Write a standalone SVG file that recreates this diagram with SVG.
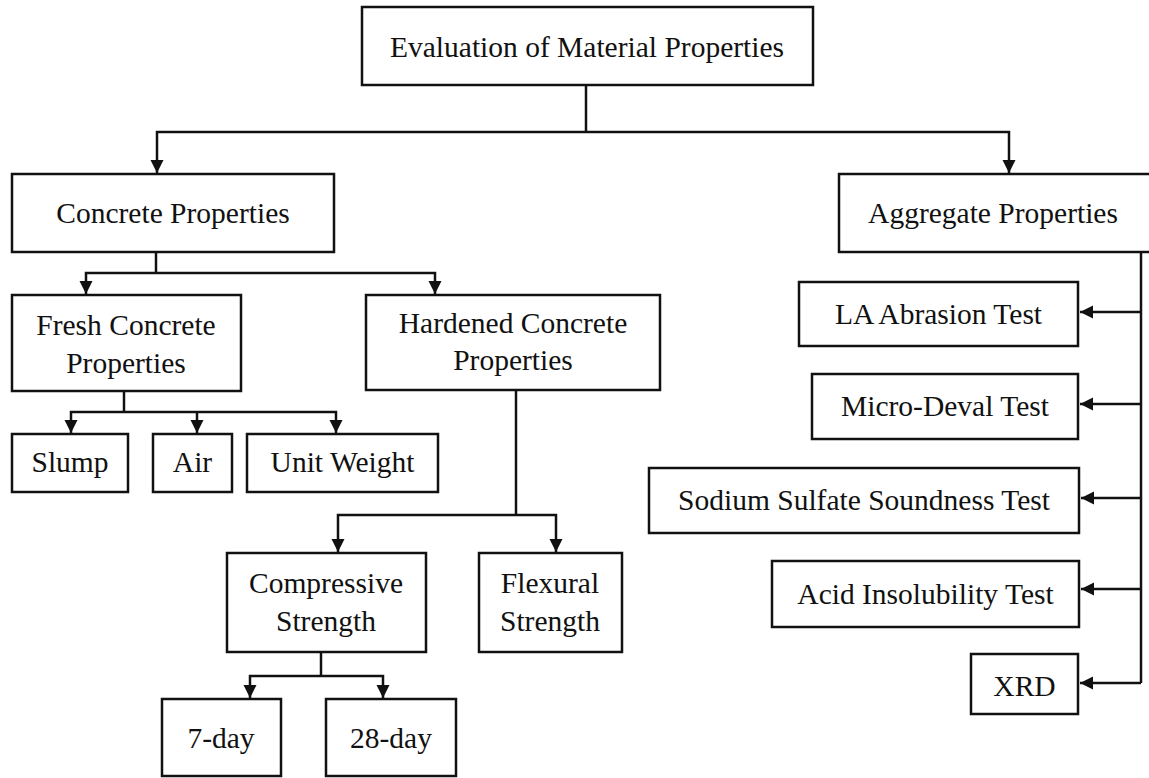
<svg xmlns="http://www.w3.org/2000/svg" width="1149" height="778" viewBox="0 0 1149 778">
<defs>
<style>
.box{fill:#fff;stroke:#111;stroke-width:2.5}
.t{font-family:"Liberation Serif","Times New Roman",serif;font-size:29.5px;fill:#111;text-anchor:middle}
.c{fill:none;stroke:#111;stroke-width:2.5}
.a{fill:none;stroke:#111;stroke-width:2.5;marker-end:url(#arr)}
</style>
<marker id="arr" markerUnits="userSpaceOnUse" markerWidth="14" markerHeight="14" refX="13" refY="7" orient="auto">
<path d="M0,0.5 L13,7 L0,13.5 z" fill="#111"/>
</marker>
</defs>
<rect width="1149" height="778" fill="#fff"/>
<g id="connectors">
<path class="c" d="M586,85 V132"/>
<path class="a" d="M586,132 H157 V173"/>
<path class="a" d="M586,132 H1009 V173"/>
<path class="c" d="M156,252 V273"/>
<path class="a" d="M156,273 H86 V294"/>
<path class="a" d="M156,273 H435 V294"/>
<path class="c" d="M124,391 V412"/>
<path class="a" d="M124,412 H71 V433"/>
<path class="a" d="M197,412 V433"/>
<path class="a" d="M124,412 H336 V433"/>
<path class="c" d="M516,390 V515"/>
<path class="a" d="M516,515 H338 V552"/>
<path class="a" d="M516,515 H556 V552"/>
<path class="c" d="M321,652 V676"/>
<path class="a" d="M321,676 H250 V698"/>
<path class="a" d="M321,676 H383 V698"/>
<path class="c" d="M1141,252 V683"/>
<path class="a" d="M1141,312 H1080"/>
<path class="a" d="M1141,404 H1080"/>
<path class="a" d="M1141,498 H1081"/>
<path class="a" d="M1141,589 H1081"/>
<path class="a" d="M1141,683 H1080"/>
</g>
<g id="evaluation"><rect class="box" x="362" y="7" width="451" height="78"/><text class="t" x="587" y="57">Evaluation of Material Properties</text></g>
<g id="concrete"><rect class="box" x="12" y="174" width="322" height="78"/><text class="t" x="173" y="223">Concrete Properties</text></g>
<g id="aggregate"><rect class="box" x="839" y="174" width="314" height="78"/><text class="t" x="993" y="223">Aggregate Properties</text></g>
<g id="fresh"><rect class="box" x="12" y="295" width="229" height="96"/><text class="t" x="126" y="335">Fresh Concrete</text><text class="t" x="126" y="373">Properties</text></g>
<g id="hardened"><rect class="box" x="366" y="295" width="294" height="95"/><text class="t" x="513" y="333">Hardened Concrete</text><text class="t" x="513" y="370">Properties</text></g>
<g id="slump"><rect class="box" x="12" y="434" width="116" height="58"/><text class="t" x="70" y="472">Slump</text></g>
<g id="air"><rect class="box" x="153" y="434" width="79" height="58"/><text class="t" x="192.5" y="472">Air</text></g>
<g id="unitweight"><rect class="box" x="247" y="434" width="191" height="58"/><text class="t" x="342.5" y="472">Unit Weight</text></g>
<g id="compressive"><rect class="box" x="227" y="553" width="199" height="99"/><text class="t" x="326" y="593">Compressive</text><text class="t" x="326" y="631">Strength</text></g>
<g id="flexural"><rect class="box" x="479" y="553" width="143" height="99"/><text class="t" x="550" y="593">Flexural</text><text class="t" x="550" y="631">Strength</text></g>
<g id="day7"><rect class="box" x="162" y="699" width="119" height="77"/><text class="t" x="221" y="748">7-day</text></g>
<g id="day28"><rect class="box" x="326" y="699" width="130" height="77"/><text class="t" x="391" y="748">28-day</text></g>
<g id="la"><rect class="box" x="799" y="282" width="279" height="64"/><text class="t" x="938.5" y="324">LA Abrasion Test</text></g>
<g id="microdeval"><rect class="box" x="812" y="374" width="266" height="65"/><text class="t" x="945" y="416">Micro-Deval Test</text></g>
<g id="sodium"><rect class="box" x="649" y="468" width="430" height="65"/><text class="t" x="864" y="510">Sodium Sulfate Soundness Test</text></g>
<g id="acid"><rect class="box" x="772" y="561" width="307" height="66"/><text class="t" x="925.5" y="604">Acid Insolubility Test</text></g>
<g id="xrd"><rect class="box" x="971" y="654" width="107" height="60"/><text class="t" x="1024.5" y="696">XRD</text></g>
</svg>
